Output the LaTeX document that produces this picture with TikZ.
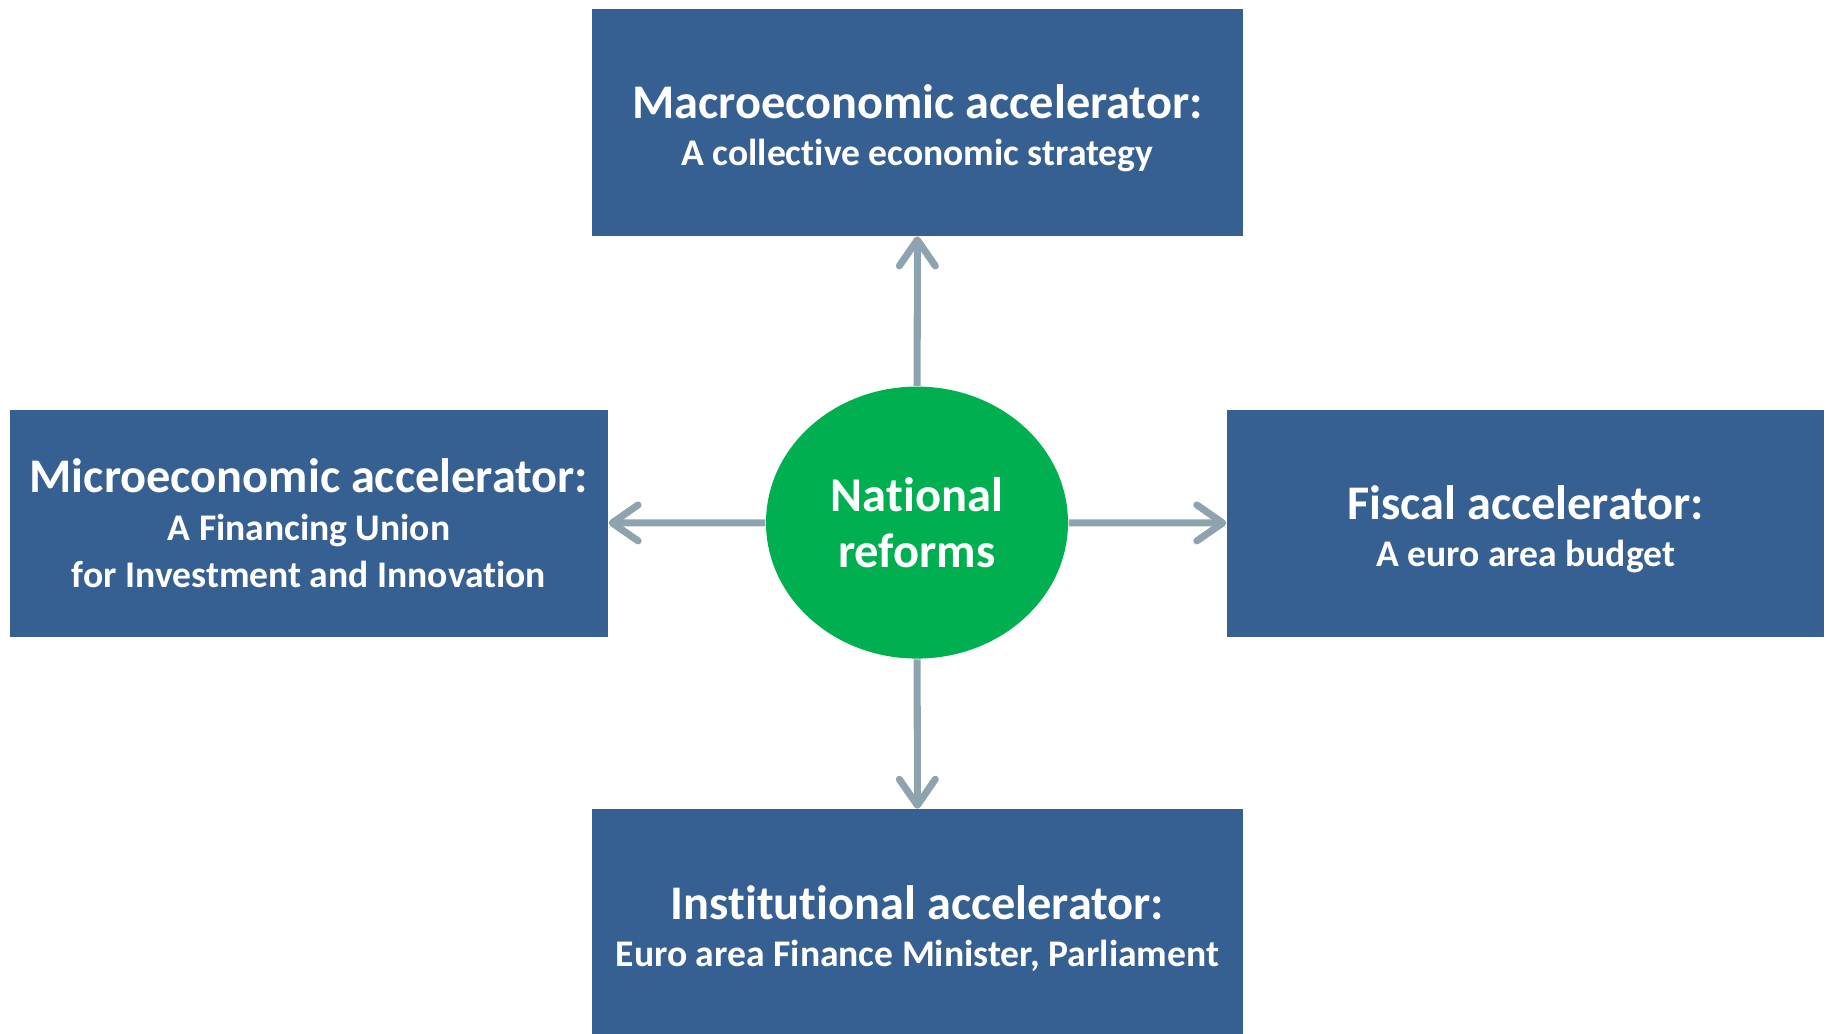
\documentclass[tikz,border=0pt]{standalone}
\usepackage{fontspec}
\setmainfont{Carlito}[Ligatures=NoCommon]
\usetikzlibrary{shapes.geometric,arrows.meta}
\definecolor{boxblue}{HTML}{376092}
\definecolor{reformgreen}{HTML}{00B050}
\definecolor{arrowgray}{HTML}{8DA3AE}
\newcommand{\headline}[2][0pt]{{\fontsize{13.75}{16}\selectfont\rule{0pt}{#1}#2}}

\begin{document}
\begin{tikzpicture}[
  accel/.style={rectangle,fill=boxblue,text=white,font=\bfseries\fontsize{10.7}{13.5}\selectfont,align=center,inner sep=0pt,minimum height=2.267cm},
  link/.style={arrowgray,line width=2pt,-{Straight Barb[length=2.6mm,width=3.6mm,round]}}]
\useasboundingbox (0,0) rectangle (18.29,10.34);
\node[ellipse,fill=reformgreen,text=white,font=\bfseries\fontsize{13.8}{16}\selectfont,align=center,inner sep=0pt,minimum width=3.02cm,minimum height=2.72cm] (reforms) at (9.17,5.114) {National\\reforms};
\node[accel,minimum width=6.51cm] (macro) at (9.175,9.1165) {\headline[13pt]{Macroeconomic accelerator:}\\A collective economic strategy};
\node[accel,minimum width=5.978cm] (micro) at (3.09,5.1065) {\headline{Microeconomic accelerator:}\\A Financing Union\\for Investment and Innovation};
\node[accel,minimum width=5.974cm] (fiscal) at (15.257,5.1065) {\headline[13pt]{Fiscal accelerator:}\\A euro area budget};
\node[accel,minimum width=6.51cm] (inst) at (9.175,1.1115) {\headline[13pt]{Institutional accelerator:}\\Euro area Finance Minister, Parliament};

\draw[link] (reforms) -- (macro);
\draw[link] (reforms) -- (micro);
\draw[link] (reforms) -- (fiscal);
\draw[link] (reforms) -- (inst);
\end{tikzpicture}
\end{document}
